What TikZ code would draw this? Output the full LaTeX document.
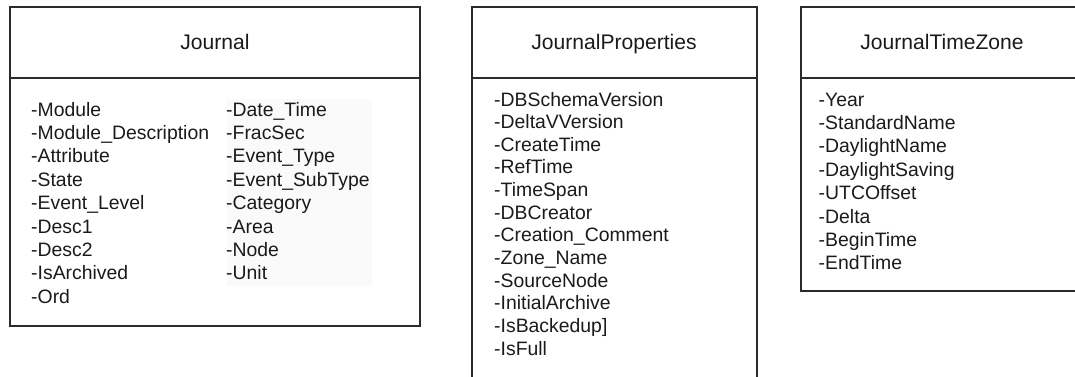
\documentclass[tikz,border=0pt]{standalone}
\usepackage{fontspec}
\setmainfont{Liberation Sans}
\definecolor{edge}{HTML}{2B2B2B}
\definecolor{txt}{HTML}{1A1A1A}
\definecolor{lightbg}{HTML}{FAFAFA}
\tikzset{
  frame/.style={draw=edge, line width=1.5pt},
  attr/.style={anchor=base west, inner sep=0pt, text=txt, font=\fontsize{19.4}{22}\selectfont},
  ttl/.style={anchor=base, inner sep=0pt, text=txt, font=\fontsize{21.1}{24}\selectfont}
}
\begin{document}
\begin{tikzpicture}[x=1pt,y=-1pt]
\useasboundingbox (0,0) rectangle (1075,376);
\clip (0,0) rectangle (1075,376);
% Journal
\fill[lightbg] (227,99) rectangle (372,286);
\draw[frame] (10,7) rectangle (420,326);
\draw[frame] (10,78) -- (420,78);
\node[ttl] (tJ) at (215,49.3) {Journal};
\foreach \t [count=\i from 0] in {-Module,-Module\_Description,-Attribute,-State,-Event\_Level,-Desc1,-Desc2,-IsArchived,-Ord}
  \node[attr] (ja\i) at (31,116+23.4*\i) {\t};
\foreach \t [count=\i from 0] in {-Date\_Time,-FracSec,-Event\_Type,-Event\_SubType,-Category,-Area,-Node,-Unit}
  \node[attr] (jb\i) at (226,116+23.4*\i) {\t};
% JournalProperties
\draw[frame] (472,400) -- (472,7) -- (757,7) -- (757,400);
\draw[frame] (472,78) -- (757,78);
\node[ttl] (tP) at (614,49.3) {JournalProperties};
\foreach \t [count=\i from 0] in {-DBSchemaVersion,-DeltaVVersion,-CreateTime,-RefTime,-TimeSpan,-DBCreator,-Creation\_Comment,-Zone\_Name,-SourceNode,-InitialArchive,-IsBackedup],-IsFull}
  \node[attr] (p\i) at (494,106+22.64*\i) {\t};
% JournalTimeZone
\draw[frame] (1090,7) -- (801,7) -- (801,291) -- (1090,291);
\draw[frame] (801,78) -- (1090,78);
\node[ttl] (tZ) at (942,49.3) {JournalTimeZone};
\foreach \t [count=\i from 0] in {-Year,-StandardName,-DaylightName,-DaylightSaving,-UTCOffset,-Delta,-BeginTime,-EndTime}
  \node[attr] (z\i) at (818.5,106+23.4*\i) {\t};
\end{tikzpicture}
\end{document}
